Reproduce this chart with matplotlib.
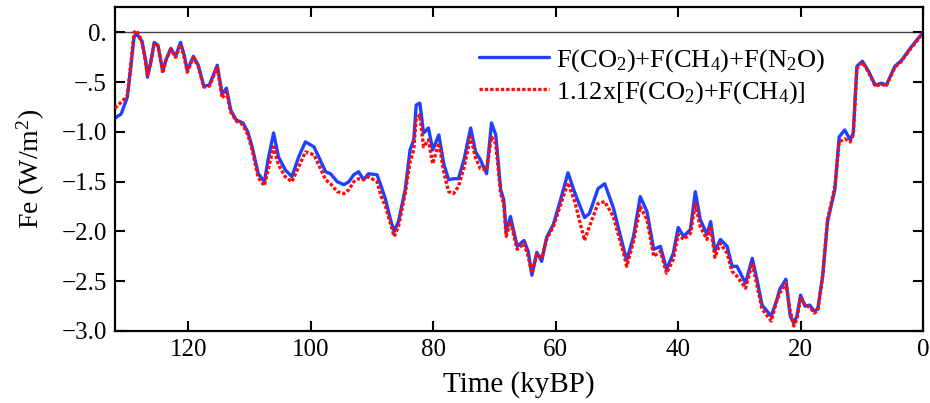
import matplotlib
matplotlib.use("Agg")
import matplotlib.pyplot as plt
from matplotlib.ticker import FixedLocator, FixedFormatter

# ---- data ----
time_kyr = [132.0, 131.0, 130.0, 129.4, 128.9, 128.5, 127.6, 127.0, 126.7, 126.2,
            125.6, 125.0, 124.6, 124.2, 123.7, 122.9, 122.1, 121.3, 120.7, 120.2,
            119.2, 118.4, 117.5, 116.6, 115.3, 114.5, 113.8, 113.1, 112.2, 111.1,
            110.3, 109.6, 108.6, 107.6, 107.0, 106.1, 105.3, 104.2, 103.1, 102.0,
            100.9, 99.5, 98.5, 97.6, 96.8, 95.7, 94.6, 93.8, 93.0, 92.2,
            91.4, 90.6, 89.2, 88.5, 87.8, 87.0, 86.4, 85.7, 84.6, 83.8,
            83.2, 82.8, 82.2, 81.6, 80.8, 80.1, 79.1, 78.3, 77.5, 76.7,
            75.9, 75.0, 73.9, 73.1, 72.3, 71.3, 70.5, 69.8, 69.0, 68.5,
            68.1, 67.4, 66.3, 65.2, 64.5, 63.9, 63.1, 62.3, 61.5, 60.4,
            59.3, 58.0, 56.9, 55.3, 54.5, 53.1, 52.0, 50.6, 49.0, 48.4,
            47.3, 46.2, 45.1, 44.0, 42.9, 41.9, 40.8, 40.0, 39.1, 38.0,
            37.2, 36.4, 35.3, 34.7, 34.0, 33.1, 32.0, 31.2, 30.4, 29.0,
            27.9, 27.1, 26.3, 24.8, 23.9, 23.4, 22.4, 21.7, 21.1, 20.6,
            20.0, 19.3, 18.5, 17.8, 17.2, 16.4, 15.6, 14.4, 13.7, 12.8,
            11.9, 11.4, 10.8, 9.9, 8.9, 7.8, 6.8, 6.0, 4.6, 3.5,
            2.1, 0.8, 0.1]

fe_all = [-0.86, -0.82, -0.65, -0.34, -0.05, -0.01, -0.09, -0.28, -0.45, -0.31,
          -0.10, -0.13, -0.26, -0.39, -0.28, -0.16, -0.24, -0.10, -0.23, -0.38,
          -0.24, -0.33, -0.54, -0.53, -0.33, -0.62, -0.56, -0.78, -0.88, -0.91,
          -1.00, -1.15, -1.42, -1.50, -1.28, -1.01, -1.25, -1.38, -1.45, -1.25,
          -1.10, -1.15, -1.28, -1.40, -1.42, -1.50, -1.53, -1.50, -1.43, -1.40,
          -1.48, -1.42, -1.43, -1.55, -1.68, -1.88, -2.00, -1.90, -1.58, -1.18,
          -1.08, -0.73, -0.71, -1.01, -0.96, -1.18, -1.03, -1.32, -1.48, -1.47,
          -1.47, -1.28, -0.96, -1.20, -1.28, -1.42, -0.91, -1.03, -1.58, -1.68,
          -2.00, -1.85, -2.15, -2.09, -2.20, -2.44, -2.21, -2.30, -2.06, -1.93,
          -1.70, -1.41, -1.61, -1.86, -1.82, -1.57, -1.52, -1.76, -2.15, -2.29,
          -2.05, -1.65, -1.80, -2.18, -2.15, -2.38, -2.22, -1.96, -2.05, -1.98,
          -1.60, -1.88, -2.03, -1.90, -2.20, -2.08, -2.15, -2.35, -2.35, -2.52,
          -2.27, -2.49, -2.74, -2.85, -2.69, -2.58, -2.48, -2.85, -2.92, -2.85,
          -2.64, -2.75, -2.74, -2.80, -2.78, -2.45, -1.90, -1.58, -1.05, -0.98,
          -1.08, -1.01, -0.34, -0.29, -0.39, -0.53, -0.51, -0.53, -0.34, -0.28,
          -0.16, -0.06, -0.01]

fe_scaled = [-0.76, -0.70, -0.64, -0.30, 0.00, 0.02, -0.09, -0.30, -0.43, -0.31,
             -0.11, -0.13, -0.26, -0.41, -0.28, -0.17, -0.25, -0.12, -0.25, -0.40,
             -0.25, -0.34, -0.55, -0.54, -0.35, -0.66, -0.60, -0.80, -0.89, -0.93,
             -1.03, -1.18, -1.46, -1.54, -1.38, -1.15, -1.33, -1.45, -1.50, -1.35,
             -1.20, -1.23, -1.36, -1.48, -1.52, -1.60, -1.62, -1.58, -1.50, -1.47,
             -1.48, -1.45, -1.50, -1.65, -1.75, -1.92, -2.05, -1.95, -1.62, -1.30,
             -1.18, -0.86, -0.83, -1.15, -1.08, -1.32, -1.11, -1.40, -1.60, -1.62,
             -1.55, -1.36, -1.05, -1.26, -1.37, -1.38, -1.05, -1.12, -1.62, -1.72,
             -2.05, -1.90, -2.18, -2.12, -2.25, -2.42, -2.23, -2.27, -2.08, -1.95,
             -1.75, -1.51, -1.70, -2.09, -1.95, -1.72, -1.70, -1.85, -2.20, -2.35,
             -2.10, -1.75, -1.88, -2.25, -2.20, -2.42, -2.28, -2.03, -2.08, -2.02,
             -1.72, -1.95, -2.08, -1.95, -2.26, -2.12, -2.22, -2.40, -2.45, -2.57,
             -2.32, -2.55, -2.78, -2.90, -2.70, -2.62, -2.52, -2.80, -2.95, -2.88,
             -2.66, -2.74, -2.76, -2.82, -2.80, -2.45, -1.88, -1.55, -1.10, -1.07,
             -1.10, -1.03, -0.36, -0.30, -0.40, -0.54, -0.52, -0.54, -0.35, -0.29,
             -0.17, -0.07, -0.01]

x_ticks = [120, 100, 80, 60, 40, 20, 0]
x_tick_labels = ["120", "100", "80", "60", "40", "20", "0"]
y_ticks = [-3.0, -2.5, -2.0, -1.5, -1.0, -0.5, 0.0]
y_tick_labels = ["\u22123.0", "\u22122.5", "\u22122.0", "\u22121.5", "\u22121.0", "\u2212.5", "0."]

label_all = r"F(CO$_2$)+F(CH$_4$)+F(N$_2$O)"
label_scaled = r"1.12x[F(CO$_2$)+F(CH$_4$)]"

# ---- style ----
plt.rcParams["font.family"] = ["Liberation Serif", "DejaVu Serif"]
plt.rcParams["mathtext.fontset"] = "custom"
plt.rcParams["mathtext.rm"] = "Liberation Serif"
plt.rcParams["mathtext.it"] = "Liberation Serif:italic"
plt.rcParams["mathtext.default"] = "rm"

fig = plt.figure(figsize=(9.30, 4.03), dpi=100)
ax = fig.add_axes([0.1237, 0.1787, 0.8688, 0.8043])

ax.axhline(0.0, color="#444444", lw=1.0, zorder=1)
ax.plot(time_kyr, fe_all, color="#2040ff", lw=2.4, solid_joinstyle="round",
        solid_capstyle="round", label=label_all, zorder=2)
ax.plot(time_kyr, fe_scaled, color="#ff0a0a", lw=2.4, linestyle=(0, (1.0, 0.6)),
        dash_joinstyle="round", label=label_scaled, zorder=3)

ax.set_xlim(132, 0)
ax.set_ylim(-3.0, 0.257)

ax.xaxis.set_major_locator(FixedLocator(x_ticks))
ax.xaxis.set_major_formatter(FixedFormatter(x_tick_labels))
ax.yaxis.set_major_locator(FixedLocator(y_ticks))
ax.yaxis.set_major_formatter(FixedFormatter(y_tick_labels))

ax.tick_params(direction="in", length=7, width=1.5, top=True, right=True,
               labelsize=18, pad=6)
for s in ax.spines.values():
    s.set_linewidth(1.6)

ax.set_xlabel("Time (kyBP)", fontsize=21, labelpad=7)
ax.set_ylabel(r"Fe (W/m$^2$)", fontsize=20, labelpad=10)

leg = ax.legend(loc="upper right", bbox_to_anchor=(0.879, 0.876), frameon=False,
                fontsize=19, handlelength=2.65, handletextpad=0.3,
                labelspacing=0.2, borderpad=0, borderaxespad=0)

fig.savefig("out.png", dpi=100)
